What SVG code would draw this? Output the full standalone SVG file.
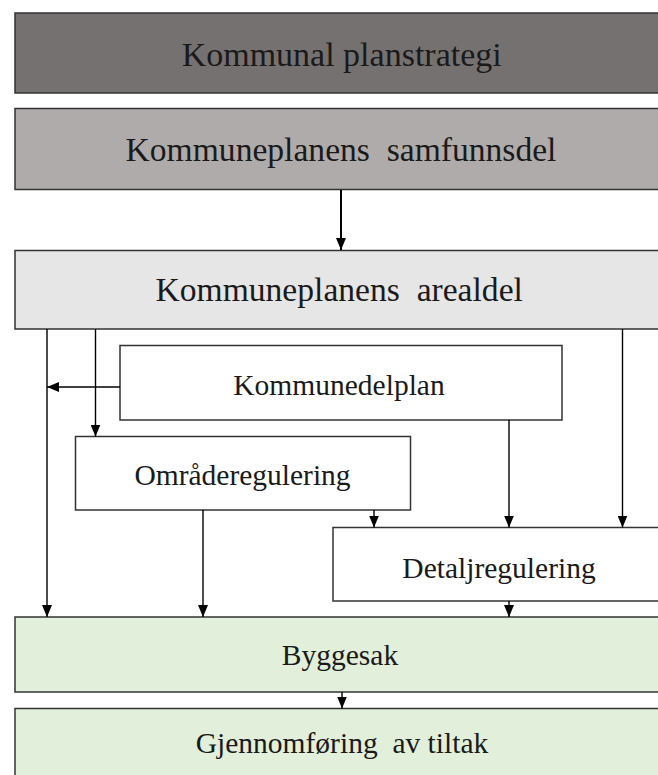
<svg xmlns="http://www.w3.org/2000/svg" width="658" height="775" viewBox="0 0 658 775">
<defs>
<marker id="ah" markerUnits="userSpaceOnUse" markerWidth="12" markerHeight="10" refX="12" refY="5" orient="auto">
<path d="M0,0 L12,5 L0,10 z" fill="#000"/>
</marker>
<style>
.box{stroke:#333;stroke-width:1.5}
text{fill:#1a1a1a;text-anchor:middle;white-space:pre}
.big{font-size:33.6px}
.sm{font-size:29.5px}
.c{fill:none;stroke:#000;stroke-width:1.4;marker-end:url(#ah)}
</style>
</defs>
<rect width="658" height="775" fill="#fff"/>
<g id="planstrategi">
<rect class="box" x="15" y="13" width="660" height="80" fill="#767171"/>
<text font-family="Liberation Serif, Times New Roman, DejaVu Serif, serif" x="341.7" y="66" xml:space="preserve" font-size="34">Kommunal planstrategi</text>
</g>
<g id="samfunnsdel">
<rect class="box" x="15" y="108.5" width="660" height="81" fill="#AFABAB"/>
<text font-family="Liberation Serif, Times New Roman, DejaVu Serif, serif" class="big" x="341" y="161" xml:space="preserve">Kommuneplanens  samfunnsdel</text>
</g>
<g id="arealdel">
<rect class="box" x="15" y="250.5" width="660" height="78.5" fill="#E7E6E6"/>
<text font-family="Liberation Serif, Times New Roman, DejaVu Serif, serif" class="big" x="339.2" y="301" xml:space="preserve">Kommuneplanens  arealdel</text>
</g>
<g id="kommunedelplan">
<rect class="box" x="120" y="345.5" width="442" height="74.5" fill="#fff"/>
<text font-family="Liberation Serif, Times New Roman, DejaVu Serif, serif" class="sm" x="339" y="395" xml:space="preserve">Kommunedelplan</text>
</g>
<g id="omraderegulering">
<rect class="box" x="75.5" y="436.5" width="335" height="73.5" fill="#fff"/>
<text font-family="Liberation Serif, Times New Roman, DejaVu Serif, serif" class="sm" x="242.5" y="485" xml:space="preserve">Områderegulering</text>
</g>
<g id="detaljregulering">
<rect class="box" x="333" y="527.5" width="340" height="73.5" fill="#fff"/>
<text font-family="Liberation Serif, Times New Roman, DejaVu Serif, serif" class="sm" x="499" y="578" xml:space="preserve">Detaljregulering</text>
</g>
<g id="byggesak">
<rect class="box" x="15" y="617" width="660" height="75" fill="#E2EFDA"/>
<text font-family="Liberation Serif, Times New Roman, DejaVu Serif, serif" class="sm" x="340" y="665" xml:space="preserve">Byggesak</text>
</g>
<g id="gjennomforing">
<rect class="box" x="15" y="708.5" width="660" height="80" fill="#E2EFDA"/>
<text font-family="Liberation Serif, Times New Roman, DejaVu Serif, serif" class="sm" x="342" y="753" xml:space="preserve">Gjennomføring  av tiltak</text>
</g>
<g id="connectors">
<path class="c" d="M341,190 V250" style="stroke-width:2"/>
<path class="c" d="M47,329 V617"/>
<path class="c" d="M95.5,329 V436.5"/>
<path class="c" d="M120,387 H47"/>
<path class="c" d="M622.5,329 V527.5"/>
<path class="c" d="M509,420 V527.5"/>
<path class="c" d="M374,510 V527.5"/>
<path class="c" d="M203,510 V617"/>
<path class="c" d="M509,601 V617"/>
<path class="c" d="M342,692 V708.5"/>
</g>
</svg>
